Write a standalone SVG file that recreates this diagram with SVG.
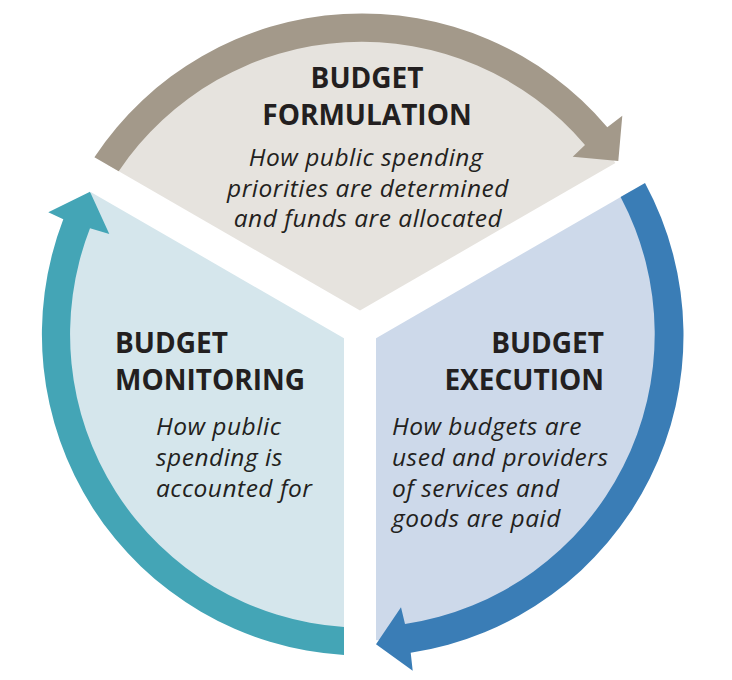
<svg xmlns="http://www.w3.org/2000/svg" width="732" height="680" viewBox="0 0 732 680">
  <style>
    .title { font-family: "Open Sans", "Liberation Sans", sans-serif; font-weight: 700; font-size: 28px; fill: #231F20; }
    .desc { font-family: "Open Sans", "Liberation Sans", sans-serif; font-style: italic; font-size: 24.5px; letter-spacing: 0.5px; fill: #231F20; }
  </style>
  <rect width="732" height="680" fill="#FFFFFF"/>

  <g id="formulation">
    <path d="M 360,310.5 L 107.5,164.7 A 306 306 0 0 1 615.4,163 Z" fill="#E6E3DE"/>
    <text class="title" x="367" y="88.3" text-anchor="middle">BUDGET</text>
    <text class="title" x="367" y="125.3" text-anchor="middle">FORMULATION</text>
    <text class="desc" x="366" y="166" text-anchor="middle">How public spending</text>
    <text class="desc" x="368" y="196.5" text-anchor="middle">priorities are determined</text>
    <text class="desc" x="368" y="226.7" text-anchor="middle">and funds are allocated</text>
  </g>

  <g id="execution">
    <path d="M 376,338.2 L 632,190.4 A 306 306 0 0 1 376,640.2 Z" fill="#CDD9EA"/>
    <text class="title" x="604" y="353.3" text-anchor="end">BUDGET</text>
    <text class="title" x="604" y="390.3" text-anchor="end">EXECUTION</text>
    <text class="desc" x="392" y="435">How budgets are</text>
    <text class="desc" x="392" y="465.5">used and providers</text>
    <text class="desc" x="392" y="496.5">of services and</text>
    <text class="desc" x="392" y="527">goods are paid</text>
  </g>

  <g id="monitoring">
    <path d="M 344,338.2 L 91.1,192.2 A 306 306 0 0 0 344,640 Z" fill="#D5E6EC"/>
    <text class="title" x="115" y="353.3">BUDGET</text>
    <text class="title" x="115" y="390.3">MONITORING</text>
    <text class="desc" x="156" y="435">How public</text>
    <text class="desc" x="156" y="465.5">spending is</text>
    <text class="desc" x="156" y="496.5">accounted for</text>
  </g>

  <g id="connectors">
    <path id="arrow-formulation-execution" d="M 94.4,157.2 A 321 321 0 0 1 607.3,127.3 L 622.3,115.7 L 618.3,161 L 572.7,156.7 L 585,145 A 293 293 0 0 0 118.7,171.2 Z" fill="#A3998A"/>
    <path id="arrow-execution-monitoring" d="M 645,182.9 A 321 321 0 0 1 410.7,652.7 L 412.7,670.7 L 376,644.3 L 401,607.3 L 405,624 A 293 293 0 0 0 620.6,197 Z" fill="#3A7DB6"/>
    <path id="arrow-monitoring-formulation" d="M 344,655 L 344,626.9 A 293 293 0 0 1 90,228.3 L 109.3,234 L 90,191.7 L 48.3,212.3 L 63.3,219.3 A 321 321 0 0 0 344,655 Z" fill="#44A5B6"/>
  </g>
</svg>
